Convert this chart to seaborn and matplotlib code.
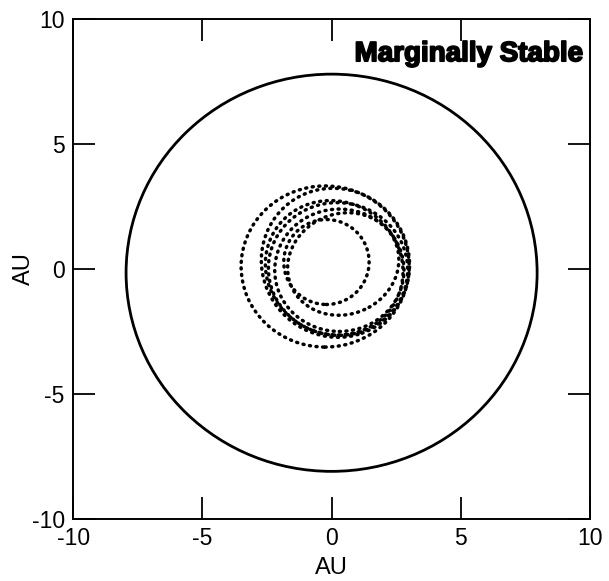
import matplotlib
matplotlib.use("Agg")
import matplotlib.pyplot as plt
import matplotlib.patheffects as pe
from matplotlib.patches import Ellipse, Circle
import seaborn as sns

# Outer boundary circle (AU)
boundary_center = (0.0, -0.15)
boundary_radius = 7.95

# Planet orbit loops: centre x, centre y, width, height, tilt (deg)
loop_cx = [-0.25, 0.15, 0.25, 0.10, 0.30, 0.45, -0.20]
loop_cy = [0.10, 0.25, 0.00, 0.05, -0.05, 0.20, 0.28]
loop_w = [6.50, 5.70, 5.40, 5.20, 5.00, 4.40, 3.30]
loop_h = [6.45, 6.00, 5.30, 5.50, 4.90, 4.00, 3.40]
loop_tilt = [0, 20, -20, 40, 0, 30, 0]

ticks = [-10, -5, 0, 5, 10]
tick_labels = ["-10", "-5", "0", "5", "10"]
panel_label = "Marginally Stable"

sns.set_theme(style="ticks")
plt.rcParams["font.family"] = ["Liberation Sans", "DejaVu Sans"]

fig = plt.figure(figsize=(6.09, 5.81), dpi=100)
ax = fig.add_axes([0.12, 0.107, 0.849, 0.860])

ax.add_patch(Circle(boundary_center, boundary_radius, fill=False,
                    edgecolor="black", linewidth=2.0))

for cx, cy, w, h, t in zip(loop_cx, loop_cy, loop_w, loop_h, loop_tilt):
    ax.add_patch(Ellipse((cx, cy), w, h, angle=t, fill=False,
                         edgecolor="black", linewidth=2.5,
                         linestyle=(0, (0.3, 1.6)), capstyle="round"))

ax.set_xlim(-10, 10)
ax.set_ylim(-10, 10)
ax.set_xticks(ticks)
ax.set_xticklabels(tick_labels)
ax.set_yticks(ticks)
ax.set_yticklabels(tick_labels)
ax.tick_params(direction="in", length=15.5, width=1.3, top=True, right=True,
               labelsize=16.5, colors="black", pad=6)
for s in ax.spines.values():
    s.set_linewidth(1.4)
    s.set_color("black")

ax.set_xlabel("AU", fontsize=17, color="black")
ax.set_ylabel("AU", fontsize=17, color="black")
ax.xaxis.set_label_coords(0.5, -0.076)
ax.yaxis.set_label_coords(-0.074, 0.5)

ax.text(9.7, 8.6, panel_label, ha="right", va="center", fontsize=20,
        fontweight="bold", color="black",
        path_effects=[pe.withStroke(linewidth=1.3, foreground="black")])

fig.savefig("out.png", dpi=100)
